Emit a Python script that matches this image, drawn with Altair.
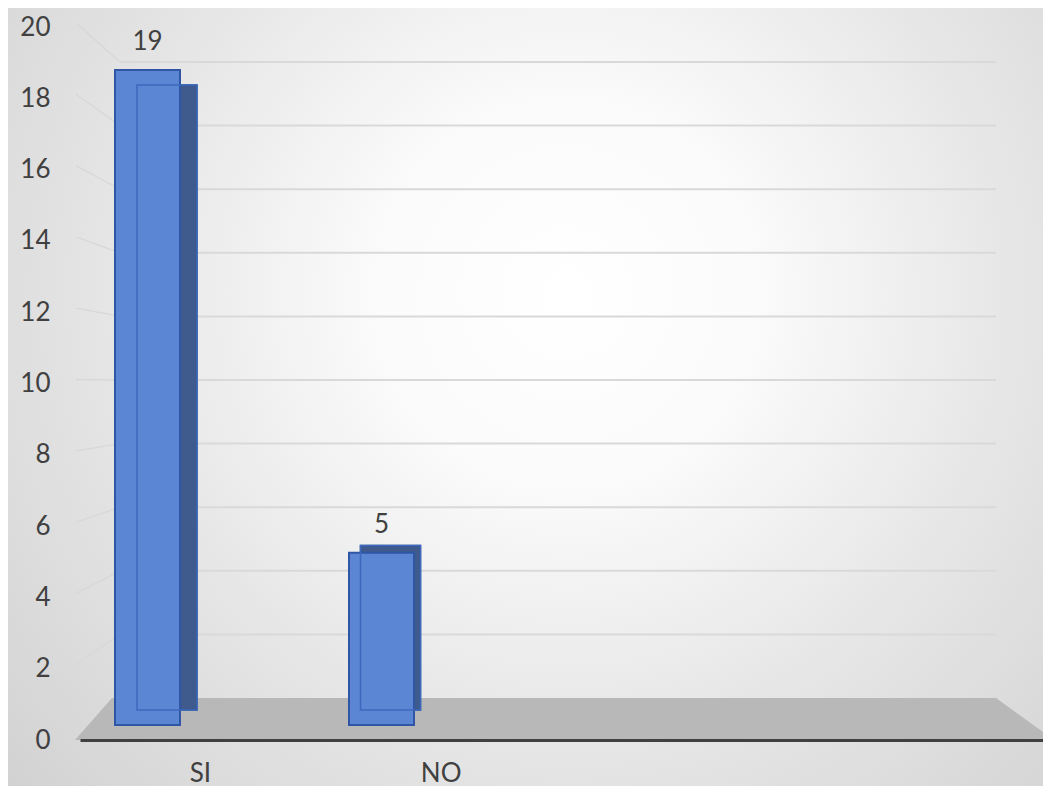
import altair as alt
import pandas as pd

# ---- data ----
categories = ["SI", "NO"]
values = [19, 5]
slots = ["SI", "NO", " ", "  "]          # chart has 4 category slots, last two empty
y_ticks = [0, 2, 4, 6, 8, 10, 12, 14, 16, 18, 20]
wall_lines = [2, 4, 6, 8, 10, 12, 14, 16, 18, 20]

W, H = 963, 713
FONT = "Lato"
TXT = "#404040"
FS = 26

bars_df = pd.DataFrame({"cat": categories, "val": values})
grid_df = pd.DataFrame({"t": wall_lines})
one_df = pd.DataFrame({"k": [0]})

# ---- scales: front plane (axes), bar front face, bar back face, back wall ----
front_x = alt.Scale(type="band", domain=slots, range=[0, W], paddingInner=0, paddingOuter=0)
front_y = alt.Scale(domain=[0, 20], range=[H, 0])
bar_x = alt.Scale(type="band", domain=slots, range=[-49.5, 886.5], paddingInner=0, paddingOuter=0)
bar_y = alt.Scale(domain=[0, 20], range=[698, 8.5])
backf_x = alt.Scale(type="band", domain=slots, range=[-24.75, 869.25], paddingInner=0, paddingOuter=0)
backf_y = alt.Scale(domain=[0, 20], range=[683, 25])
wall_y = alt.Scale(domain=[0, 20], range=[671, 35])

# ---- background (radial glow) ----
bg = alt.Chart(one_df).mark_rect(
    fill=alt.RadialGradient(
        gradient="radial",
        x1=0.54, y1=0.40, r1=0.0,
        x2=0.54, y2=0.40, r2=0.72,
        stops=[
            alt.GradientStop(color="#FFFFFF", offset=0.0),
            alt.GradientStop(color="#FBFBFB", offset=0.25),
            alt.GradientStop(color="#E6E6E6", offset=0.6),
            alt.GradientStop(color="#D2D2D2", offset=1.0),
        ],
    ),
    strokeWidth=0,
).encode(x=alt.value(-72), x2=alt.value(W), y=alt.value(-19), y2=alt.value(759))

# ---- back wall gridlines ----
grid = alt.Chart(grid_df).mark_rule(color="#D9D9D9", strokeWidth=2).encode(
    y=alt.Y("t:Q", scale=wall_y, axis=None),
    x=alt.value(40),
    x2=alt.value(916),
)

# ---- left wall diagonals (decoration linking front ticks to back wall) ----
diag_path = " ".join(
    f"M -4 {709 - 35.65 * v:.1f} L 40 {671 - 31.8 * v:.1f}" for v in wall_lines
)
diag = alt.Chart(one_df).mark_point(
    shape=diag_path, size=4, filled=False, stroke="#D8D8D8", strokeWidth=1.3, opacity=1
).encode(x=alt.value(0), y=alt.value(0))

# ---- floor ----
floor_path = "M 32 671 L 916 671 L 963 705 L 963 713 L -5 713 Z"
floor = alt.Chart(one_df).mark_point(
    shape=floor_path, size=4, filled=True, fill="#B8B8B8", strokeWidth=0, opacity=1
).encode(x=alt.value(0), y=alt.value(0))

# ---- axis carrier (front plane) ----
carrier = alt.Chart(bars_df).mark_point(opacity=0).encode(
    x=alt.X("cat:N", scale=front_x, axis=alt.Axis(
        title=None, labelAngle=0, labelFont=FONT, labelFontSize=FS, labelColor=TXT,
        ticks=False, domainColor="#404040", domainWidth=3, labelPadding=20,
        grid=False, zindex=1)),
    y=alt.Y("val:Q", scale=front_y, axis=alt.Axis(
        title=None, values=y_ticks, labelFont=FONT, labelFontSize=FS, labelColor=TXT,
        ticks=False, domain=False, grid=False, labelPadding=30, zindex=1)),
)

# ---- 3D-look bars ----
bx = alt.X("cat:N", scale=bar_x, axis=None)
by = alt.Y("val:Q", scale=bar_y, axis=None)
kx = alt.X("cat:N", scale=backf_x, axis=None)
ky = alt.Y("val:Q", scale=backf_y, axis=None)

back = alt.Chart(bars_df).mark_bar(
    size=60, color="#3F5A8D", stroke="#2F4F8F", strokeWidth=1.5,
).encode(x=kx, y=ky)

front = alt.Chart(bars_df).mark_bar(
    size=65, color="#5A86D3", stroke="#2F56A4", strokeWidth=2,
).encode(x=bx, y=by)

inner = alt.Chart(bars_df).mark_bar(
    size=60, fillOpacity=0, stroke="#3C69BD", strokeWidth=1.5,
).encode(x=kx, y=ky)

labels = alt.Chart(bars_df).mark_text(
    dy=-20, baseline="alphabetic", font=FONT, fontSize=FS, color=TXT,
).encode(x=bx, y=by, text="val:Q")

chart = (
    alt.layer(bg, grid, diag, floor, carrier, back, front, inner, labels)
    .resolve_scale(x="independent", y="independent")
    .properties(
        width=W, height=H,
        autosize=alt.AutoSizeParams(type="none"),
        padding={"left": 72, "top": 19, "right": 0, "bottom": 46},
        background="#D9D9D9",
    )
    .configure_view(stroke=None)
)

chart.save("out.html", embed_options={"renderer": "svg", "actions": False})
